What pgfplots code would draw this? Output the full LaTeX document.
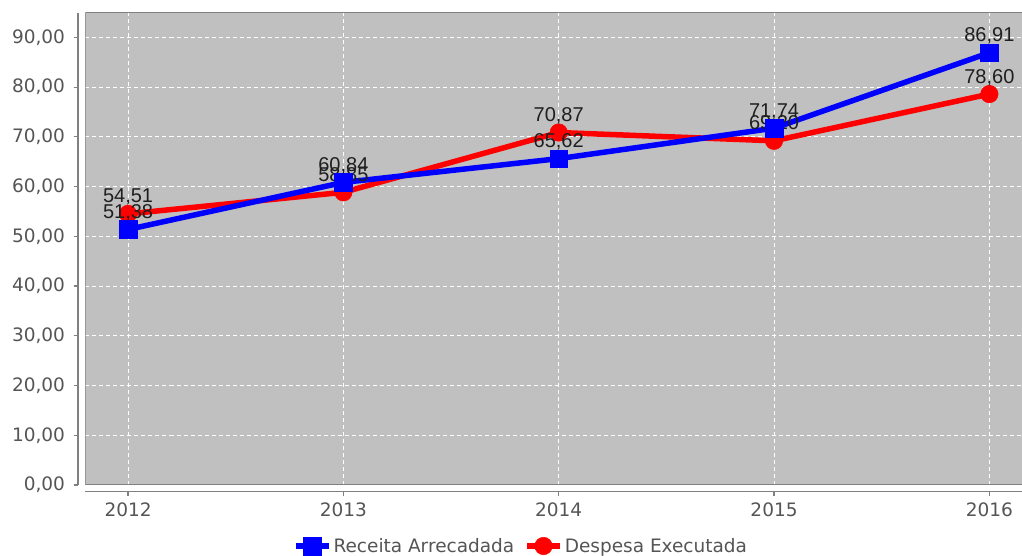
\documentclass[border=0pt]{standalone}
\usepackage{pgfplots}
\pgfplotsset{compat=1.18}
\usepackage{pgfplotstable}
\usepackage{fontspec}
\setmainfont{DejaVu Sans}
\newfontfamily\labfont{Liberation Sans}
\definecolor{bg}{HTML}{C0C0C0}
\definecolor{bord}{HTML}{808080}
\definecolor{ticktext}{HTML}{555555}
\definecolor{jblue}{HTML}{0000FF}
\definecolor{jred}{HTML}{FF0000}

\pgfplotstableread{
year val
2012 51.38
2013 60.84
2014 65.62
2015 71.74
2016 86.91
}\receita
\pgfplotstableread{
year val
2012 54.51
2013 58.85
2014 70.87
2015 69.20
2016 78.60
}\despesa

\begin{document}
\begin{tikzpicture}
\useasboundingbox (-85.5bp,-71bp) rectangle (936.5bp,485bp);
\clip (-85.5bp,-71bp) rectangle (936.5bp,485bp);
\begin{axis}[
  scale only axis, width=946.4bp, height=472.5bp,
  xmin=2011.8024, xmax=2016.1976, ymin=0, ymax=95,
  axis x line*=bottom, axis y line*=left,
  axis x line shift=6.5bp, axis y line shift=7.5bp,
  axis line style={draw=bord, line width=1.2bp},
  axis background/.style={fill=bg},
  xtick={2012,2013,2014,2015,2016},
  xticklabels={2012,2013,2014,2015,2016},
  ytick={0,10,...,90},
  yticklabel style={xshift=-5bp, /pgf/number format/.cd, fixed, fixed zerofill, precision=2, use comma, assume math mode=true},
  xticklabel style={yshift=-3bp},
  tick label style={font=\fontsize{18.5bp}{22bp}\selectfont, text=ticktext},
  tick align=outside, major tick length=4.5bp,
  tick style={draw=bord, line width=1.2bp},
  grid=major,
  major grid style={draw=white, dash pattern=on 4bp off 3bp, line width=1bp},
  legend style={at={(0.4602,-0.1291)}, anchor=center, draw=none, fill=none,
    legend columns=2, font=\fontsize{18.5bp}{22bp}\selectfont, text=ticktext,
    /tikz/every even column/.append style={column sep=8bp}},
  legend image code/.code={\draw[mark repeat=2, mark phase=2, #1] plot coordinates {(0bp,0bp) (16.5bp,0bp) (33bp,0bp)};},
  nodes near coords={\pgfmathprintnumber[fixed,fixed zerofill,precision=2,use comma,assume math mode=true]{\pgfplotspointmeta}},
  every node near coord/.append style={font=\labfont\fontsize{20bp}{24bp}\selectfont, text=black!88, anchor=base, yshift=11bp},
]
\addlegendimage{jblue, line width=5.5bp, mark=square*, mark size=8.75bp, mark options={solid, line width=0.5bp}}
\addlegendentry{Receita Arrecadada}
\addlegendimage{jred, line width=5.5bp, mark=*, mark size=8.75bp, mark options={solid, line width=0.5bp}}
\addlegendentry{Despesa Executada}
\addplot[forget plot, jred, line width=5.5bp, mark=*, mark size=8.75bp, mark options={solid, line width=0.5bp}] table[x=year,y=val]{\despesa};
\addplot[forget plot, jblue, line width=5.5bp, mark=square*, mark size=8.75bp, mark options={solid, line width=0.5bp}] table[x=year,y=val]{\receita};
\draw[bord, line width=1.5bp] (rel axis cs:0,0) rectangle (rel axis cs:1,1);
\end{axis}
\end{tikzpicture}
\end{document}
